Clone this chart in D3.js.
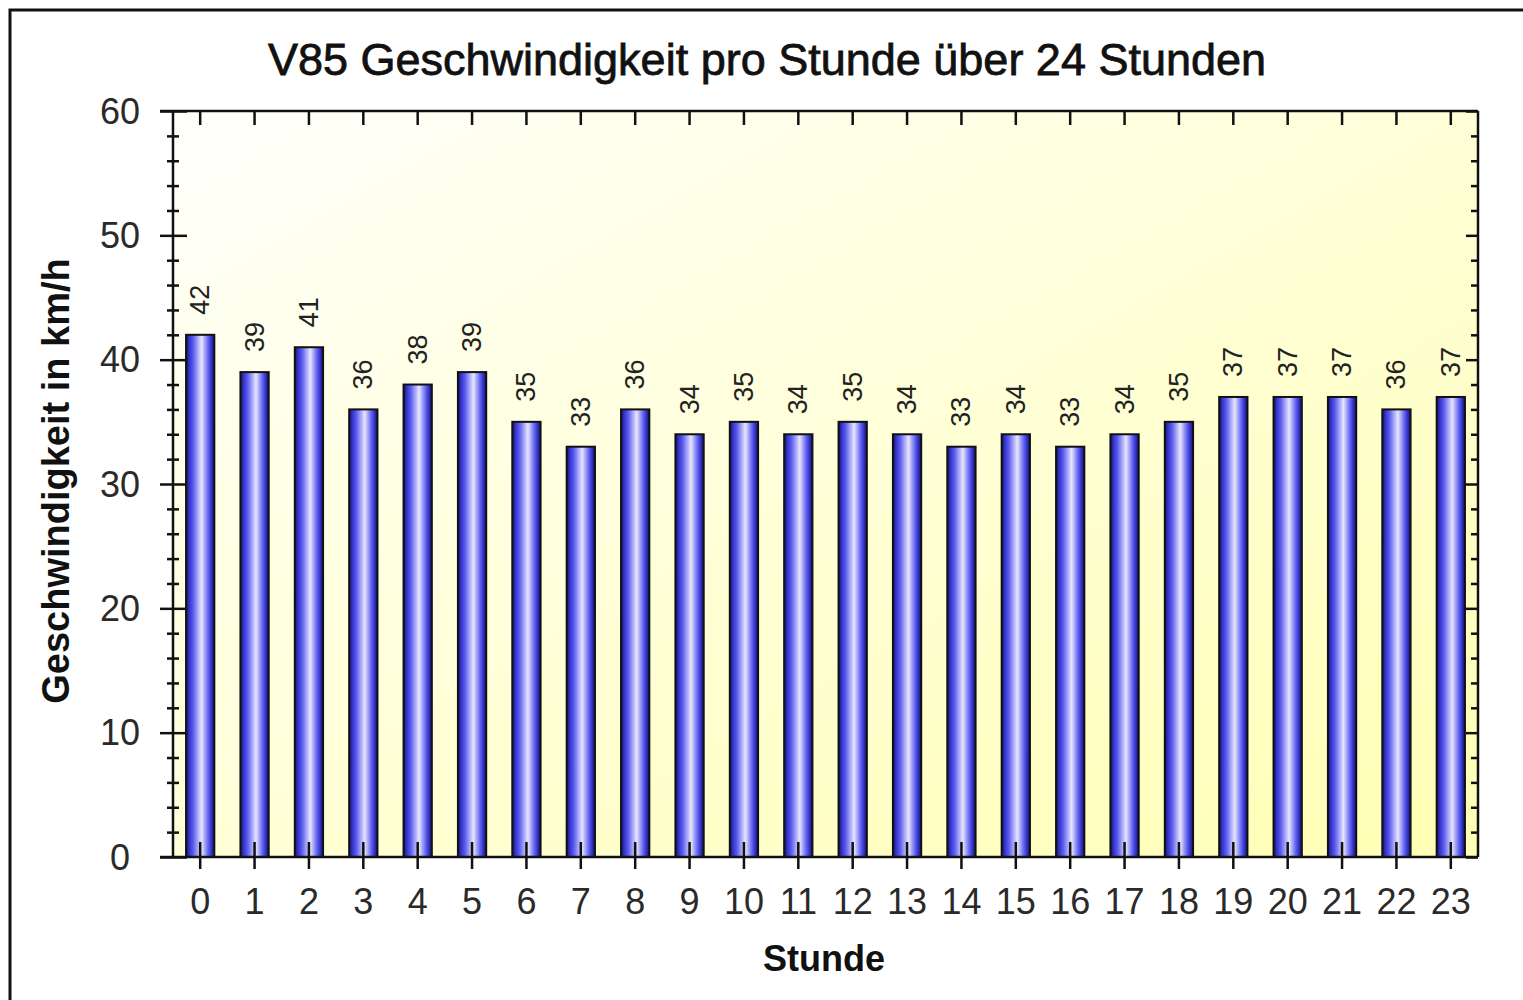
<!DOCTYPE html>
<html>
<head>
<meta charset="utf-8">
<script src="https://cdn.jsdelivr.net/npm/d3@7/dist/d3.min.js"></script>
<style>
  html, body { margin: 0; padding: 0; background: #fff; overflow: hidden; }
  svg text { font-family: "Liberation Sans", Arial, sans-serif; }
</style>
</head>
<body>
<div id="chart"></div>
<script>
// V85 speed per hour
const hours = ["0","1","2","3","4","5","6","7","8","9","10","11","12","13","14","15","16","17","18","19","20","21","22","23"];
const v85 = [42, 39, 41, 36, 38, 39, 35, 33, 36, 34, 35, 34, 35, 34, 33, 34, 33, 34, 35, 37, 37, 37, 36, 37];
const majorTicks = [0, 10, 20, 30, 40, 50, 60];
const minorTicks = d3.range(0, 61, 2).filter(v => v % 10 !== 0);

const W = 1523, H = 1000;
const L = 173, R = 1478, T = 111, B = 857;

const svg = d3.select("#chart").append("svg").attr("width", W).attr("height", H);
const defs = svg.append("defs");

const bg = defs.append("linearGradient").attr("id", "bg")
  .attr("x1", 0).attr("y1", 0).attr("x2", 1).attr("y2", 1);
bg.append("stop").attr("offset", "0%").attr("stop-color", "#fffffb");
bg.append("stop").attr("offset", "100%").attr("stop-color", "#ffffb4");

const bar = defs.append("linearGradient").attr("id", "bar")
  .attr("x1", 0).attr("y1", 0).attr("x2", 1).attr("y2", 0);
[[0, "#12125a"], [0.1, "#3030c8"], [0.25, "#5a5aee"], [0.55, "#e6e6ff"], [0.78, "#6464f0"], [0.9, "#3030c8"], [1, "#14145a"]]
  .forEach(([o, c]) => bar.append("stop").attr("offset", o).attr("stop-color", c));

// outer frame (runs off the right and bottom edge like the reference)
svg.append("rect").attr("x", 10).attr("y", 10).attr("width", W + 40).attr("height", H + 40)
  .attr("fill", "none").attr("stroke", "#111").attr("stroke-width", 3);

const x = d3.scaleBand().domain(hours).range([L, R]).paddingInner(0.48).paddingOuter(0.24);
const y = d3.scaleLinear().domain([0, 60]).range([B, T]);

svg.append("rect").attr("x", L).attr("y", T).attr("width", R - L).attr("height", B - T).attr("fill", "url(#bg)");

// bars
svg.append("g").selectAll("rect").data(v85).join("rect")
  .attr("x", (d, i) => x(hours[i]))
  .attr("y", d => y(d))
  .attr("width", x.bandwidth())
  .attr("height", d => y(0) - y(d))
  .attr("fill", "url(#bar)")
  .attr("stroke", "#111").attr("stroke-width", 2);

// value labels, rotated
svg.append("g").selectAll("text").data(v85).join("text")
  .attr("transform", (d, i) => `translate(${x(hours[i]) + x.bandwidth() / 2 + 9},${y(d) - 20}) rotate(-90)`)
  .attr("font-size", 27).attr("fill", "#222").text(d => d);

// frame lines
const axisStyle = g => { g.select(".domain").remove(); g.selectAll("line").attr("stroke", "#111").attr("stroke-width", 2.5); };
svg.append("line").attr("x1", L).attr("x2", L).attr("y1", T).attr("y2", B).attr("stroke", "#111").attr("stroke-width", 2.5);
svg.append("line").attr("x1", R).attr("x2", R).attr("y1", T).attr("y2", B).attr("stroke", "#111").attr("stroke-width", 2.5);
svg.append("line").attr("x1", 160).attr("x2", R).attr("y1", T).attr("y2", T).attr("stroke", "#111").attr("stroke-width", 2.5);
svg.append("line").attr("x1", 160).attr("x2", R).attr("y1", B).attr("y2", B).attr("stroke", "#111").attr("stroke-width", 2.5);

// left axis: major ticks crossing the line, labels centred at x=120
const left = svg.append("g").attr("transform", `translate(${L + 14},0)`)
  .call(d3.axisLeft(y).tickValues(majorTicks).tickSize(27).tickPadding(0)).call(axisStyle);
left.selectAll("text").attr("x", 120 - (L + 14)).attr("dy", null).attr("y", 12)
  .attr("text-anchor", "middle").attr("font-size", 36).attr("fill", "#2a2a2a");
svg.append("g").attr("transform", `translate(${L + 6},0)`)
  .call(d3.axisLeft(y).tickValues(minorTicks).tickSize(12).tickFormat("")).call(axisStyle);

// right axis: ticks pointing inwards
svg.append("g").attr("transform", `translate(${R},0)`)
  .call(d3.axisLeft(y).tickValues(majorTicks).tickSize(12).tickFormat("")).call(axisStyle);
svg.append("g").attr("transform", `translate(${R},0)`)
  .call(d3.axisLeft(y).tickValues(minorTicks).tickSize(7).tickFormat("")).call(axisStyle);

// top axis: ticks pointing down at each hour
svg.append("g").attr("transform", `translate(0,${T})`)
  .call(d3.axisBottom(x).tickSize(14).tickFormat("")).call(axisStyle);

// bottom axis: ticks crossing the line
const bottom = svg.append("g").attr("transform", `translate(0,${B - 15})`)
  .call(d3.axisBottom(x).tickSize(27).tickPadding(0)).call(axisStyle);
bottom.selectAll("text").attr("dy", null).attr("y", 914 - (B - 15))
  .attr("font-size", 36).attr("fill", "#2a2a2a");

// titles
svg.append("text").attr("x", 767).attr("y", 75).attr("text-anchor", "middle")
  .attr("font-size", 45).attr("fill", "#111").attr("stroke", "#111").attr("stroke-width", 0.8)
  .text("V85 Geschwindigkeit pro Stunde über 24 Stunden");
svg.append("text").attr("transform", "translate(69,481) rotate(-90)").attr("text-anchor", "middle")
  .attr("font-size", 38).attr("font-weight", "bold").attr("fill", "#111")
  .text("Geschwindigkeit in km/h");
svg.append("text").attr("x", 824).attr("y", 971).attr("text-anchor", "middle")
  .attr("font-size", 36).attr("font-weight", "bold").attr("fill", "#111")
  .text("Stunde");
</script>
</body>
</html>
